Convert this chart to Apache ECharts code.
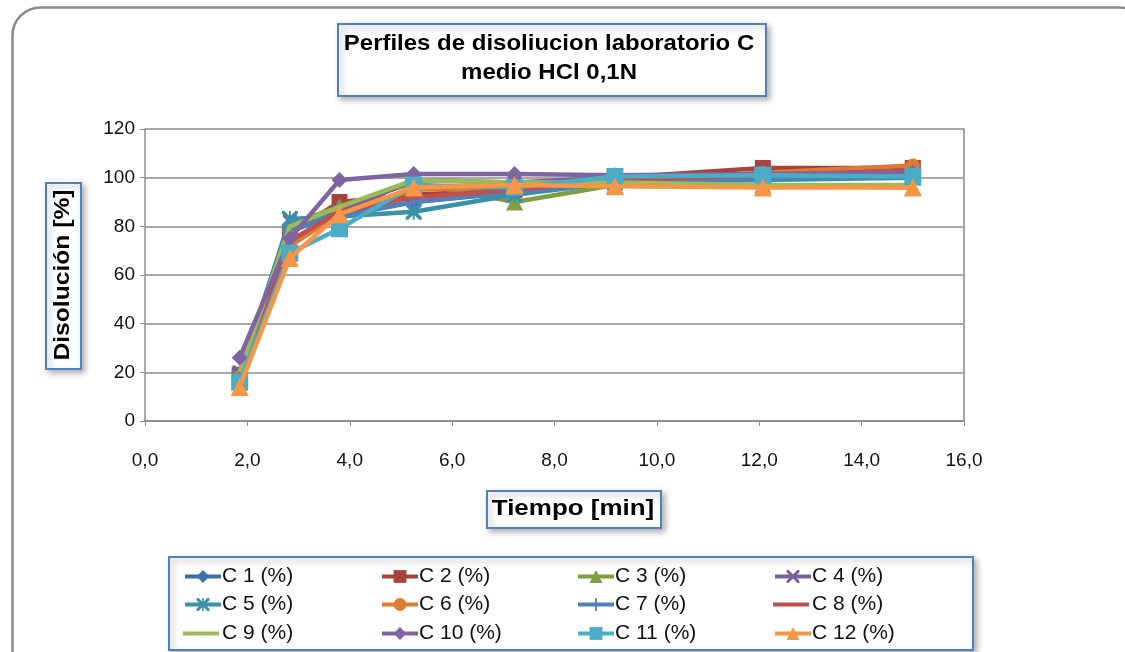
<!DOCTYPE html>
<html>
<head>
<meta charset="utf-8">
<script src="https://cdn.jsdelivr.net/npm/echarts@6/dist/echarts.min.js"></script>
<style>
  html, body { margin: 0; padding: 0; background: #fff; }
  #chart { width: 1125px; height: 652px; }
</style>
</head>
<body>
<div id="chart"></div>
<script>
// Sampling times (min)
const tiempos = [1.85, 2.83, 3.8, 5.25, 7.22, 9.18, 12.07, 15];

// Dissolution (%) per vessel
const C1  = [19, 78, 85, 90, 94, 98, 100, 101];
const C2  = [19, 77, 90, 93, 95, 100, 104, 104];
const C3  = [18, 81, 88, 98, 90, 97, 97, 96];
const C4  = [20, 82, 86, 99, 98, 100, 101, 102];
const C5  = [18, 83, 84, 86, 93, 98, 99, 100];
const C6  = [18, 72, 85, 95, 96, 99, 102, 105];
const C7  = [19, 79, 84, 90, 94, 98, 100, 101];
const C8  = [19, 74, 86, 92, 95, 99, 101, 103];
const C9  = [20, 80, 88, 99, 98, 98, 97, 97];
const C10 = [26, 75, 99, 101.5, 101.5, 101, 101.5, 102];
const C11 = [16, 69, 79, 97, 96, 100.5, 101, 100.5];
const C12 = [14, 67, 85, 96, 97, 96.5, 96, 96];

const nombres = ['C 1 (%)','C 2 (%)','C 3 (%)','C 4 (%)','C 5 (%)','C 6 (%)',
                 'C 7 (%)','C 8 (%)','C 9 (%)','C 10 (%)','C 11 (%)','C 12 (%)'];
const valores = [C1, C2, C3, C4, C5, C6, C7, C8, C9, C10, C11, C12];

const yTicks = [0, 20, 40, 60, 80, 100, 120];
const xTicks = [0, 2, 4, 6, 8, 10, 12, 14, 16];

const FONT = 'Liberation Sans, Arial, sans-serif';

// marker shapes
const X_PATH = 'path://M0,0L1.6,0L5,3.4L8.4,0L10,0L10,1.6L6.6,5L10,8.4L10,10L8.4,10L5,6.6L1.6,10L0,10L0,8.4L3.4,5L0,1.6Z';
const STAR_PATH = 'path://M0,0L1.6,0L4.4,2.8L4.4,0L5.6,0L5.6,2.8L8.4,0L10,0L10,1.6L6.6,5L10,8.4L10,10L8.4,10L5.6,7.2L5.6,10L4.4,10L4.4,7.2L1.6,10L0,10L0,8.4L3.4,5L0,1.6Z';
const PLUS_PATH = 'path://M4.3,0L5.7,0L5.7,4.3L10,4.3L10,5.7L5.7,5.7L5.7,10L4.3,10L4.3,5.7L0,5.7L0,4.3L4.3,4.3Z';

const estilos = [
  { color: '#3E6FA8', symbol: 'diamond',  size: 15 },
  { color: '#A8423F', symbol: 'rect',     size: 16 },
  { color: '#7E9E42', symbol: 'triangle', size: 17 },
  { color: '#7B5E9D', symbol: X_PATH,     size: 14 },
  { color: '#3A90A6', symbol: STAR_PATH,  size: 16 },
  { color: '#DE7B30', symbol: 'circle',   size: 14 },
  { color: '#4F81BD', symbol: PLUS_PATH,  size: 14 },
  { color: '#C0504D', symbol: 'none',     size: 0 },
  { color: '#9BBB59', symbol: 'none',     size: 0 },
  { color: '#8064A2', symbol: 'diamond',  size: 16 },
  { color: '#4BACC6', symbol: 'rect',     size: 17 },
  { color: '#F79646', symbol: 'triangle', size: 18 }
];

const series = nombres.map((n, i) => ({
  name: n,
  type: 'line',
  data: tiempos.map((t, k) => [t, valores[i][k]]),
  symbol: estilos[i].symbol,
  symbolSize: estilos[i].size,
  showSymbol: estilos[i].symbol !== 'none',
  lineStyle: { color: estilos[i].color, width: 4.5 },
  itemStyle: { color: estilos[i].color, borderWidth: 0 },
  emphasis: { disabled: true },
  animation: false,
  z: 2 + i
}));

// legend: 4 columns x 3 rows, one entry per component
const colX = [183, 380, 576, 773];
const rowY = [575, 603, 632];
const legends = nombres.map((n, i) => {
  const plain = estilos[i].symbol === 'none';
  return {
    data: [plain ? { name: n, icon: 'rect' } : n],
    left: colX[i % 4],
    top: rowY[Math.floor(i / 4)] - 9,
    itemWidth: 36,
    itemHeight: plain ? 4 : 16,
    padding: 0,
    itemGap: 0,
    selectedMode: false,
    lineStyle: { width: 4 },
    textStyle: { fontFamily: FONT, fontSize: 21, color: '#111', padding: [0, 0, 0, plain ? -2 : -4] }
  };
});

const shadow = { shadowBlur: 6, shadowOffsetX: 3, shadowOffsetY: 3, shadowColor: 'rgba(0,0,0,0.3)' };
const boxStyle = Object.assign({ fill: '#fff', stroke: '#4F81BD', lineWidth: 2 }, shadow);

const option = {
  backgroundColor: '#fff',
  animation: false,
  grid: { left: 145, top: 129, right: 161, bottom: 231, containLabel: false },
  xAxis: {
    type: 'value', min: xTicks[0], max: xTicks[xTicks.length - 1], interval: 2,
    axisLine: { show: true, onZero: false, lineStyle: { color: '#8c8c8c', width: 1.5 } },
    axisTick: { show: true, length: 5, lineStyle: { color: '#8c8c8c' } },
    splitLine: { show: false },
    axisLabel: {
      margin: 30, fontSize: 19, color: '#111', fontFamily: FONT,
      formatter: v => v.toFixed(1).replace('.', ',')
    }
  },
  yAxis: [{
    type: 'value', min: yTicks[0], max: yTicks[yTicks.length - 1], interval: 20,
    axisLine: { show: true, lineStyle: { color: '#8c8c8c', width: 1.5 } },
    axisTick: { show: true, length: 5, lineStyle: { color: '#8c8c8c' } },
    splitLine: { show: true, lineStyle: { color: '#8c8c8c', width: 1.5 } },
    axisLabel: { margin: 10, fontSize: 19, color: '#111', fontFamily: FONT }
  }, {
    type: 'value', position: 'right', min: yTicks[0], max: yTicks[yTicks.length - 1], interval: 20,
    axisLine: { show: true, lineStyle: { color: '#a6a6a6', width: 2 } },
    axisTick: { show: false }, axisLabel: { show: false }, splitLine: { show: false }
  }],
  legend: legends,
  graphic: [
    // outer rounded frame
    { type: 'rect', left: 10, top: 5, shape: { width: 1135, height: 670, r: 28 },
      style: { fill: 'none', stroke: '#8a8a8a', lineWidth: 2.5 }, z: 0, silent: true },
    // title box
    { type: 'rect', left: 337, top: 23, shape: { width: 428, height: 72 }, style: boxStyle, z: 10 },
    { type: 'text', x: 549, y: 44, z: 11, scaleX: 1.09,
      style: { text: 'Perfiles de disoliucion laboratorio C', fill: '#000', align: 'center', verticalAlign: 'middle',
               font: 'bold 22px ' + FONT } },
    { type: 'text', x: 549, y: 73, z: 11, scaleX: 1.09,
      style: { text: 'medio HCl 0,1N', fill: '#000', align: 'center', verticalAlign: 'middle',
               font: 'bold 22px ' + FONT } },
    // y axis name box
    { type: 'rect', left: 45, top: 182, shape: { width: 35, height: 186 }, style: boxStyle, z: 10 },
    { type: 'text', x: 63, y: 275, rotation: Math.PI / 2, scaleX: 1.12, z: 11,
      style: { text: 'Disolución [%]', fill: '#000', align: 'center', verticalAlign: 'middle',
               font: 'bold 22px ' + FONT } },
    // x axis name box
    { type: 'rect', left: 486, top: 490, shape: { width: 174, height: 37 }, style: boxStyle, z: 10 },
    { type: 'text', x: 573, y: 509, z: 11, scaleX: 1.18,
      style: { text: 'Tiempo [min]', fill: '#000', align: 'center', verticalAlign: 'middle',
               font: 'bold 22px ' + FONT } },
    // legend frame
    { type: 'rect', left: 168, top: 556, shape: { width: 804, height: 93 }, style: boxStyle, z: -1 }
  ],
  series: series
};

const chart = echarts.init(document.getElementById('chart'), null, { renderer: 'canvas' });
chart.setOption(option);
</script>
</body>
</html>
